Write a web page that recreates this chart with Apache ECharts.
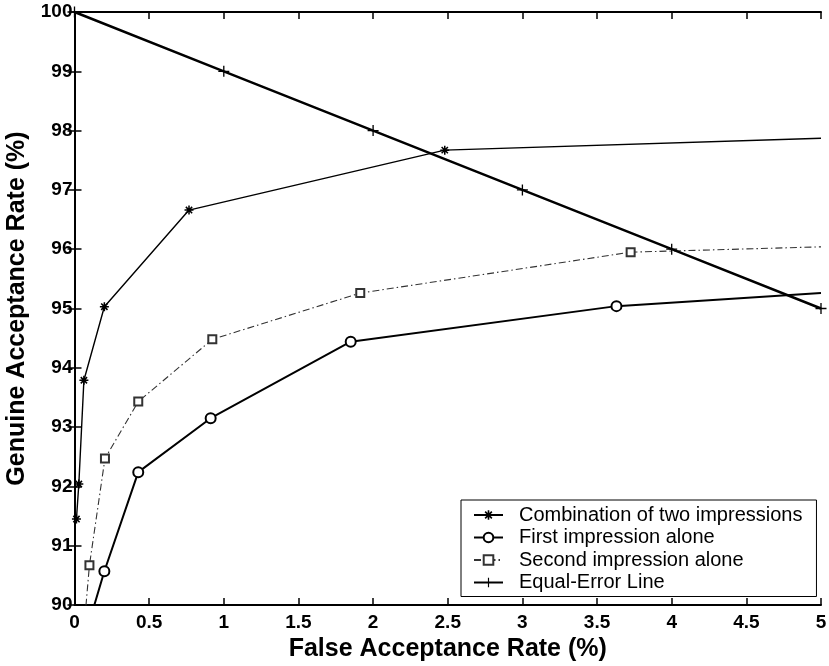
<!DOCTYPE html>
<html>
<head>
<meta charset="utf-8">
<script src="https://cdn.jsdelivr.net/npm/echarts@6/dist/echarts.min.js"></script>
<style>
html,body{margin:0;padding:0;background:#fff;}
#chart{width:829px;height:666px;}
</style>
</head>
<body>
<div id="chart"></div>
<script>
// ---- data ----
const seriesNames = ['Combination of two impressions', 'First impression alone', 'Second impression alone', 'Equal-Error Line'];

const combX = [0.013, 0.029, 0.063, 0.20, 0.767, 2.48, 5.0];
const combY = [91.45, 92.04, 93.79, 95.03, 96.66, 97.67, 97.87];

const firstX = [0.10, 0.20, 0.427, 0.912, 1.85, 3.63, 5.0];
const firstY = [89.72, 90.57, 92.24, 93.15, 94.44, 95.04, 95.26];

const secondX = [0.06, 0.10, 0.204, 0.427, 0.923, 1.914, 3.725, 5.0];
const secondY = [89.5, 90.67, 92.47, 93.43, 94.48, 95.26, 95.95, 96.04];

const eerX = [0, 1, 2, 3, 4, 5];
const eerY = [100, 99, 98, 97, 96, 95];

const xTickLabels = ['0', '0.5', '1', '1.5', '2', '2.5', '3', '3.5', '4', '4.5', '5'];
const yTickLabels = ['90', '91', '92', '93', '94', '95', '96', '97', '98', '99', '100'];

const xMin = 0, xMax = 5, xStep = 0.5;
const yMin = 90, yMax = 100, yStep = 1;

// ---- build ----
function pts(xs, ys) {
  // points lying outside the plotted range (clipped continuations) carry no marker
  return xs.map((x, i) => {
    const inside = x < xMax && ys[i] >= yMin;
    return inside ? [x, ys[i]] : { value: [x, ys[i]], symbol: 'none' };
  });
}

const asterisk = 'path://M-1,-0.17 L1,-0.17 L1,0.17 L-1,0.17 Z M-0.17,-1 L0.17,-1 L0.17,1 L-0.17,1 Z M-0.82,-0.58 L-0.58,-0.82 L0.82,0.58 L0.58,0.82 Z M0.58,-0.82 L0.82,-0.58 L-0.58,0.82 L-0.82,0.58 Z';
const plus = 'path://M-1,-0.12 L1,-0.12 L1,0.12 L-1,0.12 Z M-0.12,-1 L0.12,-1 L0.12,1 L-0.12,1 Z';

const FONT = 'Liberation Sans, Arial, Helvetica, sans-serif';

const axisCommon = {
  min: 0, max: 0,
  axisLine: { show: true, lineStyle: { color: '#000', width: 2 } },
  axisTick: { show: true, inside: true, length: 7, lineStyle: { color: '#000', width: 1.5 } },
  splitLine: { show: false }
};

const chart = echarts.init(document.getElementById('chart'), null, { renderer: 'canvas' });

const option = {
  backgroundColor: '#fff',
  animation: false,
  grid: { left: 74.5, right: 8, top: 12, bottom: 61, containLabel: false, outerBoundsMode: 'none' },
  xAxis: [
    Object.assign({}, axisCommon, {
      type: 'value', position: 'bottom', min: xMin, max: xMax, interval: xStep,
      axisLabel: {
        show: true, margin: 8, color: '#000', fontFamily: FONT, fontWeight: 'bold', fontSize: 19,
        formatter: v => xTickLabels[Math.round((v - xMin) / xStep)]
      },
      name: 'False Acceptance Rate (%)', nameLocation: 'middle', nameGap: 27,
      nameTextStyle: { color: '#000', fontFamily: FONT, fontWeight: 'bold', fontSize: 25 }
    }),
    Object.assign({}, axisCommon, {
      type: 'value', position: 'top', min: xMin, max: xMax, interval: xStep,
      axisLabel: { show: false }
    })
  ],
  yAxis: [
    Object.assign({}, axisCommon, {
      type: 'value', position: 'left', min: yMin, max: yMax, interval: yStep,
      axisLabel: {
        show: true, margin: 2, color: '#000', fontFamily: FONT, fontWeight: 'bold', fontSize: 19,
        formatter: v => yTickLabels[Math.round((v - yMin) / yStep)]
      },
      name: 'Genuine Acceptance Rate (%)', nameLocation: 'middle', nameGap: 40,
      nameTextStyle: { color: '#000', fontFamily: FONT, fontWeight: 'bold', fontSize: 25 }
    }),
    Object.assign({}, axisCommon, {
      type: 'value', position: 'right', min: yMin, max: yMax, interval: yStep,
      axisLabel: { show: false }
    })
  ],
  legend: {
    orient: 'vertical',
    left: 461, top: 500,
    padding: [5, 14, 4, 12],
    itemGap: 2.5,
    itemWidth: 29, itemHeight: 12,
    backgroundColor: '#fff',
    borderColor: '#000', borderWidth: 1, borderRadius: 0,
    data: seriesNames,
    textStyle: { color: '#000', fontFamily: FONT, fontSize: 20, lineHeight: 20, padding: [0, 0, 0, 11] }
  },
  series: [
    {
      name: seriesNames[0], type: 'line', data: pts(combX, combY),
      symbol: asterisk, symbolSize: 9, showAllSymbol: true,
      itemStyle: { color: '#000', borderWidth: 0 },
      lineStyle: { color: '#000', width: 1.4 }, z: 3
    },
    {
      name: seriesNames[1], type: 'line', data: pts(firstX, firstY),
      symbol: 'emptyCircle', symbolSize: 10, showAllSymbol: true,
      itemStyle: { color: '#000', borderColor: '#000', borderWidth: 1.6 },
      lineStyle: { color: '#000', width: 2 }, z: 3
    },
    {
      name: seriesNames[2], type: 'line', data: pts(secondX, secondY),
      symbol: 'emptyRect', symbolSize: 8, showAllSymbol: true,
      itemStyle: { color: '#333', borderColor: '#333', borderWidth: 1.1 },
      lineStyle: { color: '#333', width: 1.1, type: [7, 3, 1.5, 3] }, z: 3
    },
    {
      name: seriesNames[3], type: 'line', data: pts(eerX, eerY).map((p, i) => Array.isArray(p) ? p : { value: p.value }),
      symbol: plus, symbolSize: 11, showAllSymbol: true,
      itemStyle: { color: '#000', borderWidth: 0 },
      lineStyle: { color: '#000', width: 2.5 }, z: 4
    }
  ]
};

chart.setOption(option);
</script>
</body>
</html>
